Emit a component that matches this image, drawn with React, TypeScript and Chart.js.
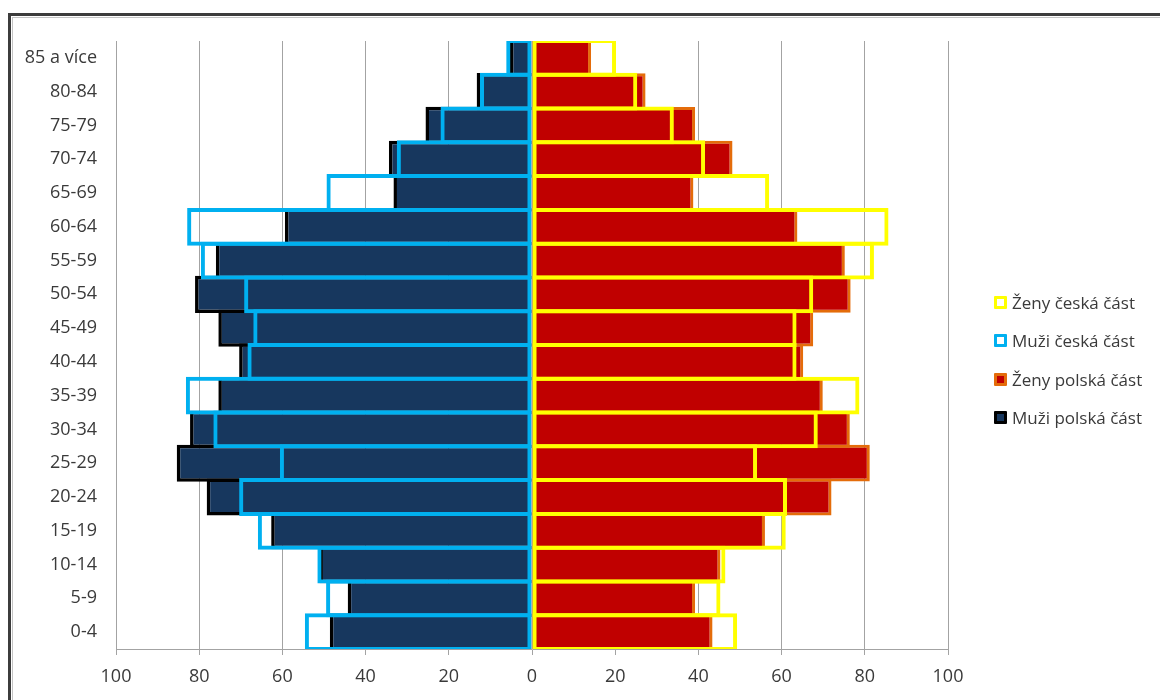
import React, { useEffect, useRef } from "react";
import { Chart, registerables } from "chart.js";

Chart.register(...registerables);

// Age groups, listed from the youngest (bottom) to the oldest (top)
const ageGroups = [
  "0-4", "5-9", "10-14", "15-19", "20-24", "25-29", "30-34", "35-39", "40-44",
  "45-49", "50-54", "55-59", "60-64", "65-69", "70-74", "75-79", "80-84", "85 a více",
];

const zenyCeska = [49.3, 45.3, 46.5, 61, 61.3, 54.1, 68.7, 78.7, 63.6, 63.6, 67.6, 82.2, 85.7, 57, 41.6, 34.1, 25.3, 20.2];
const muziCeska = [54.6, 49.5, 51.6, 65.9, 70.4, 60.6, 76.6, 83.2, 68.4, 67, 69.2, 79.6, 82.9, 49.4, 32.5, 22, 12.5, 6.2];
const zenyPolska = [43.4, 39.2, 45.3, 56, 72, 81.2, 76.4, 69.9, 65.2, 67.6, 76.6, 75.2, 63.8, 38.8, 48.2, 39.2, 27.3, 14.2];
const muziPolska = [48.6, 44.3, 51.1, 62.7, 78.2, 85.4, 82.2, 75.4, 70.4, 75.4, 81, 76, 59.4, 33.3, 34.4, 25.6, 13.3, 5.3];

const seriesNames = ["Ženy česká část", "Muži česká část", "Ženy polská část", "Muži polská část"];

const axisMin = -100;
const axisMax = 100;
const axisStep = 20;

const FONT = "'Open Sans', sans-serif";
const TEXT = "#3a3a3a";
const GRID = "#a3a3a3";

const legendStyles = [
  { border: "#FFFF00", fill: "#ffffff" },
  { border: "#00B0F0", fill: "#ffffff" },
  { border: "#E46C0A", fill: "#C00000" },
  { border: "#000000", fill: "#17375E" },
];

export default function App() {
  const canvasRef = useRef<HTMLCanvasElement | null>(null);

  useEffect(() => {
    if (!canvasRef.current) return;
    const common = {
      categoryPercentage: 1,
      grouped: false,
      borderSkipped: false as const,
    };
    const chart = new Chart(canvasRef.current, {
      type: "bar",
      data: {
        labels: ageGroups,
        datasets: [
          {
            label: seriesNames[0],
            data: zenyCeska,
            backgroundColor: "rgba(0,0,0,0)",
            borderColor: "#FFFF00",
            borderWidth: 4,
            barPercentage: 1.118,
            ...common,
          },
          {
            label: seriesNames[1],
            data: muziCeska.map((v) => -v),
            backgroundColor: "rgba(0,0,0,0)",
            borderColor: "#00B0F0",
            borderWidth: 4,
            barPercentage: 1.118,
            ...common,
          },
          {
            label: seriesNames[2],
            data: zenyPolska,
            backgroundColor: "#C00000",
            borderColor: "#E46C0A",
            borderWidth: 3,
            barPercentage: 1.089,
            ...common,
          },
          {
            label: seriesNames[3],
            data: muziPolska.map((v) => -v),
            backgroundColor: "#17375E",
            borderColor: "#000000",
            borderWidth: 3.5,
            barPercentage: 1.1,
            ...common,
          },
        ],
      },
      options: {
        indexAxis: "y",
        responsive: false,
        animation: false,
        devicePixelRatio: 1,
        layout: { padding: { left: 0, top: 41, right: 212, bottom: 0 } },
        plugins: {
          legend: { display: false },
          tooltip: { enabled: false },
        },
        scales: {
          x: {
            type: "linear",
            min: axisMin,
            max: axisMax,
            ticks: {
              stepSize: axisStep,
              padding: 11,
              color: TEXT,
              font: { family: FONT, size: 18 },
              callback: (v: any) => String(Math.abs(Number(v))),
            },
            grid: { color: GRID, lineWidth: 1, drawTicks: true, tickLength: 6, tickColor: GRID },
            border: { display: true, color: GRID, width: 1 },
            afterFit: (scale: any) => {
              scale.height = 51;
            },
          },
          y: {
            type: "category",
            reverse: true,
            ticks: {
              padding: 19,
              color: TEXT,
              font: { family: FONT, size: 18 },
            },
            grid: { display: false, drawTicks: false },
            border: { display: true, color: GRID, width: 1 },
            afterFit: (scale: any) => {
              scale.width = 116;
            },
          },
        },
      },
    } as any);
    return () => chart.destroy();
  }, []);

  return (
    <div
      style={{
        position: "fixed",
        left: 0,
        top: 0,
        width: 1160,
        height: 700,
        overflow: "hidden",
        background: "#ffffff",
      }}
    >
      <div
        style={{
          position: "absolute",
          left: 8,
          top: 13,
          width: 1400,
          height: 900,
          borderLeft: "3px solid #3c3c3c",
          borderTop: "3px solid #3c3c3c",
        }}
      />
      <div
        style={{
          position: "absolute",
          left: 12,
          top: 17,
          width: 1400,
          height: 900,
          borderLeft: "1px solid #c4c4c4",
          borderTop: "1px solid #c4c4c4",
        }}
      />
      <canvas
        ref={canvasRef}
        width={1160}
        height={700}
        style={{ position: "absolute", left: 0, top: 0, width: 1160, height: 700 }}
      />
      <div style={{ position: "absolute", left: 994, top: 283, fontFamily: FONT }}>
        {seriesNames.map((name, i) => (
          <div
            key={name}
            style={{
              display: "flex",
              alignItems: "center",
              height: 38.5,
              fontSize: 17,
              color: TEXT,
              whiteSpace: "nowrap",
            }}
          >
            <span
              style={{
                display: "inline-block",
                boxSizing: "border-box",
                width: 13,
                height: 13,
                border: `3px solid ${legendStyles[i].border}`,
                background: legendStyles[i].fill,
                marginRight: 5,
                borderRadius: 1,
              }}
            />
            <span>{name}</span>
          </div>
        ))}
      </div>
    </div>
  );
}
